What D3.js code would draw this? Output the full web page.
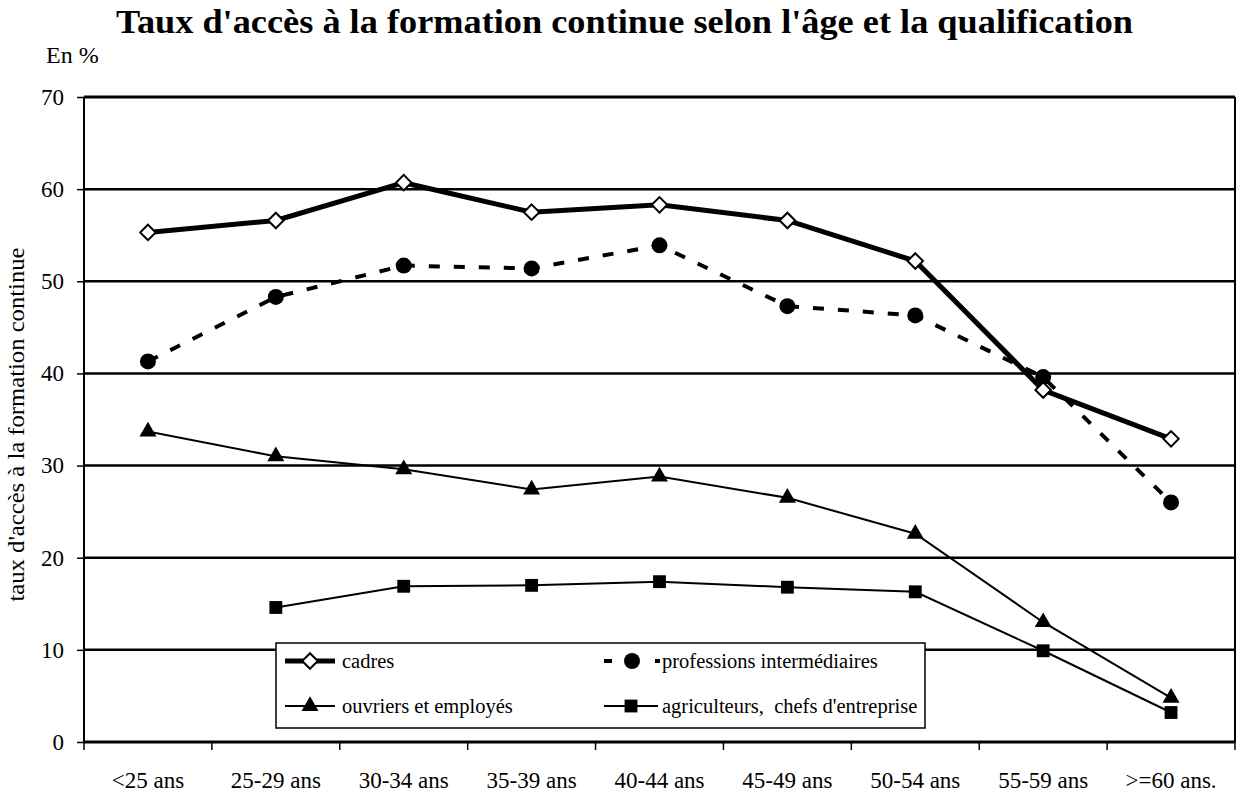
<!DOCTYPE html>
<html>
<head>
<meta charset="utf-8">
<script src="https://cdn.jsdelivr.net/npm/d3@7"></script>
<style>
  html, body { margin: 0; padding: 0; background: #fff; }
  svg { display: block; }
  svg text { font-family: "Liberation Serif", "Times New Roman", "DejaVu Serif", serif !important; fill: #000; }
</style>
</head>
<body>
<svg id="chart" width="1251" height="805"></svg>
<script>
const categories = ["<25 ans", "25-29 ans", "30-34 ans", "35-39 ans", "40-44 ans", "45-49 ans", "50-54 ans", "55-59 ans", ">=60 ans."];
const cadres = [55.3, 56.6, 60.7, 57.5, 58.3, 56.6, 52.2, 38.2, 32.9];
const professions = [41.3, 48.3, 51.7, 51.4, 53.9, 47.3, 46.3, 39.6, 26.0];
const ouvriers = [33.7, 31.0, 29.6, 27.4, 28.8, 26.5, 22.6, 13.0, 4.8];
const agriculteurs = [null, 14.6, 16.9, 17.0, 17.4, 16.8, 16.3, 9.9, 3.2];
const yTicks = [0, 10, 20, 30, 40, 50, 60, 70];
const gridValues = [10, 20, 30, 40, 50, 60];
const title = "Taux d'accès à la formation continue selon l'âge et la qualification";
const yLabel = "taux d'accès à la formation continue";
const unitLabel = "En %";
const seriesNames = ["cadres", "professions intermédiaires", "ouvriers et employés", "agriculteurs,  chefs d'entreprise"];

(function () {
const FONT = "'Liberation Serif', 'Times New Roman', 'DejaVu Serif', serif";
const svg = d3.select("#chart");
const pLeft = 84, pRight = 1235, pTop = 97, pBottom = 742;
const x = d3.scaleBand().domain(categories).range([pLeft, pRight]);
const y = d3.scaleLinear().domain([0, 70]).range([pBottom, pTop]);
const cx = d => x(d) + x.bandwidth() / 2;

// Title
svg.append("text").attr("x", 116).attr("y", 33).attr("font-family", FONT)
  .attr("textLength", 1017).attr("lengthAdjust", "spacingAndGlyphs")
  .style("font-size", "34px").style("font-weight", "bold").text(title);
svg.append("text").attr("x", 46).attr("y", 63).attr("font-family", FONT).style("font-size", "24px").text(unitLabel);

// y label
svg.append("text").attr("transform", `translate(24,${(pTop + pBottom) / 2 + 5}) rotate(-90)`)
  .attr("font-family", FONT).attr("text-anchor", "middle").style("font-size", "23px")
  .attr("textLength", 354).attr("lengthAdjust", "spacingAndGlyphs").text(yLabel);

// gridlines
svg.append("g").selectAll("line").data(gridValues).join("line")
  .attr("x1", pLeft).attr("x2", pRight).attr("y1", d => y(d)).attr("y2", d => y(d))
  .attr("stroke", "#000").attr("stroke-width", 2.5);
svg.append("line").attr("x1", pLeft).attr("x2", pRight).attr("y1", y(70)).attr("y2", y(70))
  .attr("stroke", "#000").attr("stroke-width", 3);
svg.append("line").attr("x1", pRight).attr("x2", pRight).attr("y1", y(70)).attr("y2", y(0))
  .attr("stroke", "#000").attr("stroke-width", 2);

// y axis
const yAxis = d3.axisLeft(y).tickValues(yTicks).tickSize(7).tickPadding(13).tickFormat(d3.format("d"));
const gy = svg.append("g").attr("transform", `translate(${pLeft},0)`).call(yAxis)
  .attr("font-family", FONT).attr("font-size", 23);
gy.select(".domain").attr("stroke", "#000").attr("stroke-width", 2).attr("d", `M0,${y(70)}V${y(0)}`);
gy.selectAll(".tick line").attr("stroke", "#000").attr("stroke-width", 1.5);
gy.selectAll(".tick text").attr("fill", "#000");

// x axis
const xAxis = d3.axisBottom(x).tickSize(0).tickPadding(30);
const gx = svg.append("g").attr("transform", `translate(0,${pBottom})`).call(xAxis)
  .attr("font-family", FONT).attr("font-size", 23);
gx.select(".domain").remove();
gx.selectAll(".tick text").attr("fill", "#000");
svg.append("line").attr("x1", pLeft).attr("x2", pRight).attr("y1", pBottom).attr("y2", pBottom)
  .attr("stroke", "#000").attr("stroke-width", 3);
const edges = categories.map(c => x(c)).concat([pRight]);
svg.append("g").selectAll("line").data(edges).join("line")
  .attr("x1", d => d).attr("x2", d => d).attr("y1", pBottom).attr("y2", pBottom + 8)
  .attr("stroke", "#000").attr("stroke-width", 1.5);

// series
const line = d3.line().defined(d => d.v != null).x(d => cx(d.c)).y(d => y(d.v));
const toPts = arr => categories.map((c, i) => ({ c, v: arr[i] }));

const series = [
  { data: cadres, width: 5, dash: null, marker: "diamond" },
  { data: professions, width: 4, dash: "11,14", marker: "circle" },
  { data: ouvriers, width: 2, dash: null, marker: "triangle" },
  { data: agriculteurs, width: 2, dash: null, marker: "square" }
];

function drawMarker(g, type, px, py) {
  if (type === "diamond") {
    g.append("path").attr("d", d3.symbol(d3.symbolSquare, 120)())
      .attr("transform", `translate(${px},${py}) rotate(45)`)
      .attr("fill", "#fff").attr("stroke", "#000").attr("stroke-width", 2);
  } else if (type === "circle") {
    g.append("circle").attr("cx", px).attr("cy", py).attr("r", 8).attr("fill", "#000");
  } else if (type === "triangle") {
    g.append("path").attr("d", d3.symbol(d3.symbolTriangle, 125)())
      .attr("transform", `translate(${px},${py})`).attr("fill", "#000");
  } else if (type === "square") {
    g.append("path").attr("d", d3.symbol(d3.symbolSquare, 165)())
      .attr("transform", `translate(${px},${py})`).attr("fill", "#000");
  }
}

const gs = svg.append("g");
series.slice().reverse().forEach(s => {
  gs.append("path").datum(toPts(s.data)).attr("d", line)
    .attr("fill", "none").attr("stroke", "#000").attr("stroke-width", s.width)
    .attr("stroke-dasharray", s.dash).attr("stroke-linejoin", "miter");
});
const gm = svg.append("g");
series.slice().reverse().forEach(s => {
  toPts(s.data).filter(d => d.v != null).forEach(d => drawMarker(gm, s.marker, cx(d.c), y(d.v)));
});

// legend
const lg = svg.append("g");
lg.append("rect").attr("x", 276).attr("y", 643).attr("width", 649).attr("height", 85)
  .attr("fill", "#fff").attr("stroke", "#000").attr("stroke-width", 1.5);
const legendItems = [
  { name: seriesNames[0], s: series[0], lx: 285, lw: 50, tx: 342, ly: 661 },
  { name: seriesNames[1], s: series[1], lx: 604, lw: 56, tx: 662, ly: 661 },
  { name: seriesNames[2], s: series[2], lx: 285, lw: 50, tx: 342, ly: 706 },
  { name: seriesNames[3], s: series[3], lx: 604, lw: 54, tx: 662, ly: 706 }
];
legendItems.forEach(it => {
  lg.append("line").attr("x1", it.lx).attr("x2", it.lx + it.lw).attr("y1", it.ly).attr("y2", it.ly)
    .attr("stroke", "#000").attr("stroke-width", it.s.width)
    .attr("stroke-dasharray", it.s.dash ? "8,43,5" : null);
  drawMarker(lg, it.s.marker, it.lx + (it.s.marker === "circle" ? 28 : it.lw / 2), it.ly);
  lg.append("text").attr("x", it.tx).attr("y", it.ly + 7).attr("font-family", FONT)
    .style("font-size", "20.5px").style("white-space", "pre").attr("xml:space", "preserve").text(it.name);
});
})();
</script>
</body>
</html>
